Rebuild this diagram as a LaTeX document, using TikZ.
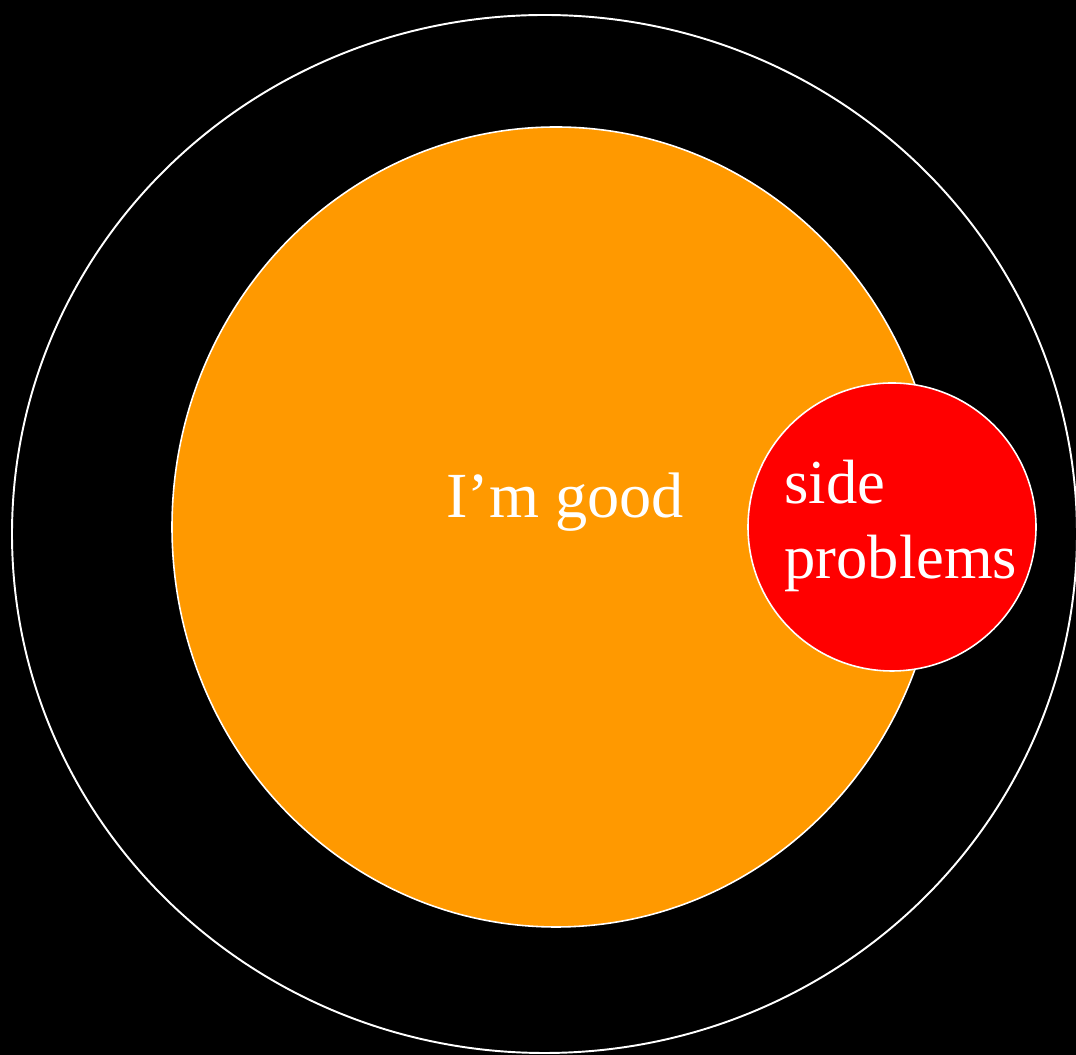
\documentclass[tikz,border=0pt]{standalone}
\usepackage{fontspec}
\setmainfont{Liberation Serif}
\usetikzlibrary{positioning}
\definecolor{goodorange}{HTML}{FF9900}
\definecolor{sidered}{HTML}{FF0000}
\begin{document}
\begin{tikzpicture}[
  ring/.style={draw=white, line width=1.1pt},
  blob/.style={draw=white, line width=0.9pt},
  word/.style={text=white, font=\fontsize{36.6}{43}\selectfont, inner sep=0pt}
]

% Background
\fill[black] (0,0) rectangle (21.52,21.1);
\useasboundingbox (0,0) rectangle (21.52,21.1);

% Outer ring
\draw[ring] (10.89,10.42) ellipse [x radius=10.65, y radius=10.38];

% Main blob and side blob
\draw[blob, fill=goodorange] (11.12,10.56) ellipse [x radius=7.68, y radius=8.0];
\draw[blob, fill=sidered] (17.84,10.56) circle [radius=2.88];

% Labels
\node[word, anchor=base] (good) at (11.3,10.74) {I’m good};
\node[word, anchor=base west, align=left, font=\fontsize{35.6}{43}\selectfont] (side) at (15.68,9.52) {side\\problems};

\end{tikzpicture}
\end{document}
